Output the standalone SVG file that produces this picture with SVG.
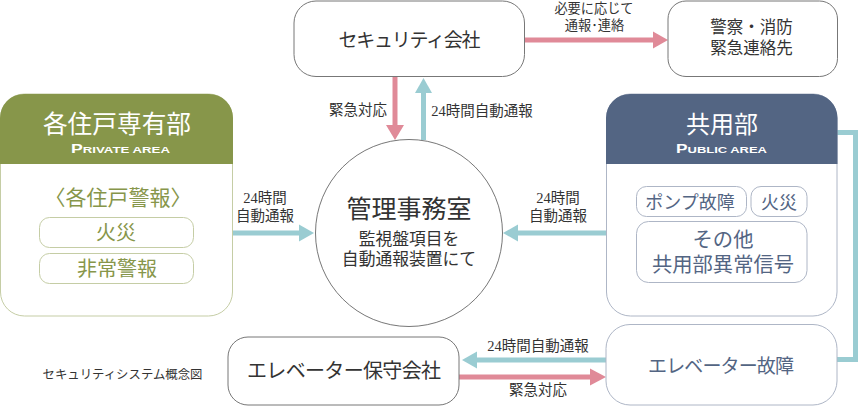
<svg xmlns="http://www.w3.org/2000/svg" width="858" height="406" viewBox="0 0 858 406">
<style>
text{font-family:"Liberation Serif","Noto Sans CJK JP",serif;text-anchor:middle;fill:#333}
.b{fill:#fff;stroke:#777;stroke-width:1}
.g{fill:#fff;stroke:#c5cda5;stroke-width:1}
.n{fill:#fff;stroke:#aeb6c6;stroke-width:1}
.gt{fill:#87964a}.nt{fill:#536583}
text.w{fill:#fff}
text.gc{fill:#87964a}
text.nc{fill:#536583}
text.hd{font-family:"Liberation Sans",sans-serif;font-weight:700;fill:#fff}
.p{fill:none;stroke:#e08a98;stroke-width:5}
.t{fill:none;stroke:#9accd2;stroke-width:5}
.pf{fill:#e08a98}.tf{fill:#9accd2}
</style>
<g id="connectors">
<path class="p" d="M524 40H655"/><polygon class="pf" points="668,40 653,31.500 653,48.500"/>
<path class="p" d="M395 76V127"/><polygon class="pf" points="395,140 386,125 404,125"/>
<path class="t" d="M423.500 140V91"/><polygon class="tf" points="423.500,78 415,93 432,93"/>
<path class="t" d="M233 233H301"/><polygon class="tf" points="314,233 299,224.500 299,241.500"/>
<path class="t" d="M606 233H516"/><polygon class="tf" points="503,233 518,224.500 518,241.500"/>
<path class="t" d="M606 360H474"/><polygon class="tf" points="462,360 477,351.500 477,368.500"/>
<path class="p" d="M459 377H593"/><polygon class="pf" points="606,377 590,368.500 590,385.500"/>
<path class="t" d="M837 132.500H855.500V359.500H837"/>
</g>
<g id="private">
<path class="g" d="M0.500 163V118a24 24 0 0 1 24-24H208.500a24 24 0 0 1 24 24V292a24 24 0 0 1-24 24H24.500a24 24 0 0 1-24-24Z"/>
<path class="gt" d="M0 164V118a24 24 0 0 1 24-24H209a24 24 0 0 1 24 24V164Z"/>
<text x="117" y="133" font-size="24.700" class="w">各住戸専有部</text>
<text x="120.500" y="153" font-size="12" class="hd" textLength="99" lengthAdjust="spacingAndGlyphs">P<tspan font-size="9">RIVATE AREA</tspan></text>
<text x="118" y="205" font-size="21" class="gc">〈各住戸警報〉</text>
<rect class="g" x="39.500" y="217.500" width="154" height="30" rx="10"/>
<text x="116" y="240" font-size="20" class="gc">火災</text>
<rect class="g" x="39.500" y="253.500" width="154" height="30" rx="10"/>
<text x="117" y="276" font-size="20" class="gc">非常警報</text>
</g>
<g id="public">
<path class="n" d="M606.500 163V118a24 24 0 0 1 24-24H813a24 24 0 0 1 24 24V292a24 24 0 0 1-24 24H630.500a24 24 0 0 1-24-24Z"/>
<path class="nt" d="M606 164V118a24 24 0 0 1 24-24H813.500a24 24 0 0 1 24 24V164Z"/>
<text x="722" y="133" font-size="24" class="w">共用部</text>
<text x="721.500" y="153" font-size="12" class="hd" textLength="91" lengthAdjust="spacingAndGlyphs">P<tspan font-size="9">UBLIC AREA</tspan></text>
<rect class="n" x="636.500" y="186.500" width="110" height="30" rx="10"/>
<text x="690" y="209" font-size="18" class="nc">ポンプ故障</text>
<rect class="n" x="751" y="186.500" width="56" height="30" rx="10"/>
<text x="779" y="209" font-size="18" class="nc">火災</text>
<rect class="n" x="636.500" y="221.500" width="170.500" height="61" rx="12"/>
<text font-size="20.300" class="nc"><tspan x="723" y="247">その他</tspan><tspan x="723" y="272">共用部異常信号</tspan></text>
</g>
<g id="elevator-fault">
<rect class="n" x="606" y="324.500" width="231" height="80.500" rx="24"/>
<text x="721" y="373" font-size="19" class="nc" textLength="146">エレベーター故障</text>
</g>
<g id="security">
<rect class="b" x="294" y="1" width="230.500" height="75.500" rx="22"/>
<text x="409.500" y="47" font-size="19" textLength="142">セキュリティ会社</text>
</g>
<g id="police">
<rect class="b" x="668" y="1" width="169.500" height="75.500" rx="18"/>
<text font-size="16.500"><tspan x="751.500" y="33">警察・消防</tspan><tspan x="751.500" y="54">緊急連絡先</tspan></text>
</g>
<g id="maintenance">
<rect class="b" x="228" y="337" width="231" height="68" rx="20"/>
<text x="344" y="378" font-size="20" textLength="194">エレベーター保守会社</text>
</g>
<g id="office">
<circle class="b" cx="409" cy="233" r="93.500"/>
<text x="409" y="218" font-size="25">管理事務室</text>
<text font-size="16.800"><tspan x="409" y="245">監視盤項目を</tspan><tspan x="409" y="265">自動通報装置にて</tspan></text>
</g>
<g id="labels">
<text font-size="13.200"><tspan x="594" y="13">必要に応じて</tspan><tspan x="594.500" y="30">通報･連絡</tspan></text>
<text x="358" y="115" font-size="14.500">緊急対応</text>
<text x="482" y="116" font-size="14.500">24時間自動通報</text>
<text font-size="14.500"><tspan x="265" y="203">24時間</tspan><tspan x="265" y="221">自動通報</tspan></text>
<text font-size="14.500"><tspan x="558" y="203">24時間</tspan><tspan x="558" y="221">自動通報</tspan></text>
<text x="538" y="351" font-size="14.500">24時間自動通報</text>
<text x="538" y="395" font-size="14.500">緊急対応</text>
<text x="122.500" y="379" font-size="12.400">セキュリティシステム概念図</text>
</g>
</svg>
